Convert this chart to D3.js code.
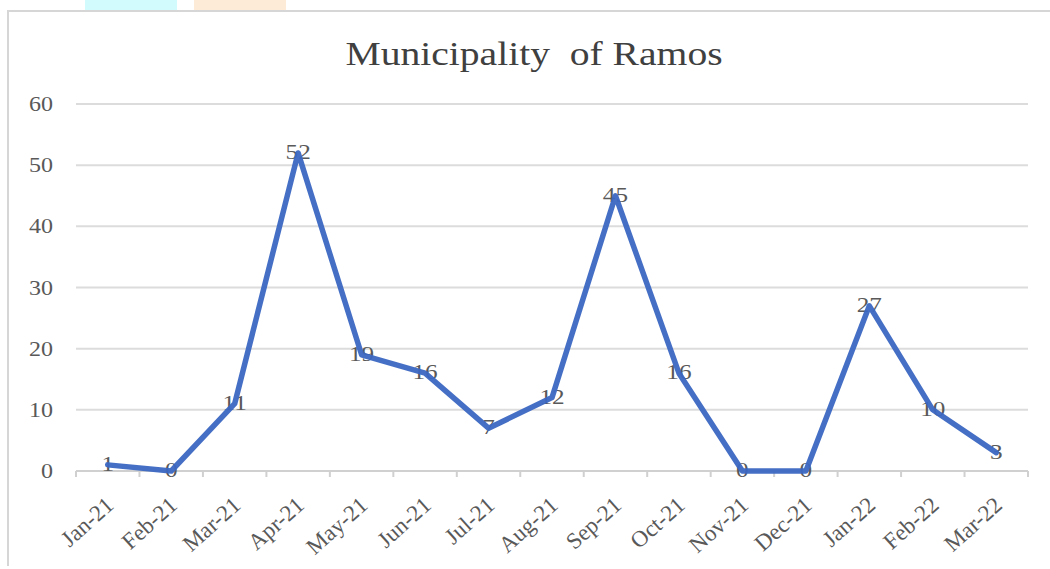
<!DOCTYPE html>
<html>
<head>
<meta charset="utf-8">
<script src="https://cdn.jsdelivr.net/npm/d3@7"></script>
<style>
  html, body { margin: 0; padding: 0; background: #fff; }
  svg { display: block; }
</style>
</head>
<body>
<svg id="chart" width="1050" height="569"></svg>
<script>
// Monthly counts, Municipality of Ramos
const months = ["Jan-21","Feb-21","Mar-21","Apr-21","May-21","Jun-21","Jul-21","Aug-21","Sep-21","Oct-21","Nov-21","Dec-21","Jan-22","Feb-22","Mar-22"];
const counts = [1, 0, 11, 52, 19, 16, 7, 12, 45, 16, 0, 0, 27, 10, 3];
const yTicks = [0, 10, 20, 30, 40, 50, 60];
const title = "Municipality  of Ramos";

const svg = d3.select("#chart");
const W = 1050, H = 569;
const margin = { left: 76, right: 22, top: 104, bottom: 98 };
const serif = "'Liberation Serif', 'Times New Roman', serif";
const textGrey = "#595959";
const stretch = 1.2; // wide letterforms

// decorative tabs above the frame
svg.append("rect").attr("x", 85).attr("y", 0).attr("width", 92).attr("height", 10).attr("fill", "#d2fbfd");
svg.append("rect").attr("x", 194).attr("y", 0).attr("width", 92).attr("height", 10).attr("fill", "#fdebd8");

// chart frame
svg.append("line").attr("x1", 7).attr("x2", W).attr("y1", 11).attr("y2", 11)
  .attr("stroke", "#d6d6d6").attr("stroke-width", 2);
svg.append("line").attr("x1", 8).attr("x2", 8).attr("y1", 10).attr("y2", 566)
  .attr("stroke", "#d6d6d6").attr("stroke-width", 2);

const x = d3.scaleBand().domain(months).range([margin.left, W - margin.right]);
const y = d3.scaleLinear().domain([0, 60]).range([H - margin.bottom, margin.top]);

// title
svg.append("text")
  .attr("transform", `translate(534,65) scale(${stretch},1)`)
  .attr("text-anchor", "middle")
  .style("font-family", serif).style("font-size", "33px")
  .style("white-space", "pre")
  .attr("fill", "#404040")
  .text(title);

// horizontal gridlines
svg.append("g").selectAll("line").data(yTicks.filter(d => d > 0)).join("line")
  .attr("x1", margin.left).attr("x2", W - margin.right)
  .attr("y1", d => y(d)).attr("y2", d => y(d))
  .attr("stroke", "#dcdcdc").attr("stroke-width", 2);

// y axis labels
svg.append("g").selectAll("text").data(yTicks).join("text")
  .attr("transform", d => `translate(53,${y(d)}) scale(${stretch},1)`)
  .attr("text-anchor", "end").attr("dy", "0.35em")
  .style("font-family", serif).style("font-size", "20px")
  .attr("fill", textGrey)
  .text(d => d);

// x axis with ticks at category boundaries
const gx = svg.append("g").attr("transform", `translate(0,${y(0)})`);
gx.append("line").attr("x1", margin.left).attr("x2", W - margin.right)
  .attr("stroke", "#d0d0d0").attr("stroke-width", 2);
const bounds = months.map(m => x(m)).concat([x(months[months.length - 1]) + x.bandwidth()]);
gx.selectAll("line.tick").data(bounds).join("line").attr("class", "tick")
  .attr("x1", d => d).attr("x2", d => d).attr("y1", 0).attr("y2", 6)
  .attr("stroke", "#d0d0d0").attr("stroke-width", 2);
gx.selectAll("text").data(months).join("text")
  .attr("transform", d => `translate(${x(d) + x.bandwidth() / 2 + 2},${30}) rotate(-42)`)
  .attr("text-anchor", "end")
  .attr("dy", "0.35em")
  .style("font-family", serif).style("font-size", "23px")
  .attr("fill", textGrey)
  .text(d => d);

const px = d => x(d) + x.bandwidth() / 2;

// data labels (drawn beneath the line)
svg.append("g").selectAll("text").data(months).join("text")
  .attr("transform", (d, i) => `translate(${px(d)},${y(counts[i])}) scale(${stretch},1)`)
  .attr("text-anchor", "middle").attr("dy", "0.3em")
  .style("font-family", serif).style("font-size", "21px")
  .attr("fill", textGrey)
  .text((d, i) => counts[i]);

// series line
const line = d3.line().x(d => px(d.m)).y(d => y(d.v));
svg.append("path")
  .datum(months.map((m, i) => ({ m, v: counts[i] })))
  .attr("d", line)
  .attr("fill", "none")
  .attr("stroke", "#3b67c2")
  .attr("stroke-width", 5.5)
  .attr("stroke-linejoin", "round")
  .attr("stroke-linecap", "round")
  .attr("opacity", 0.95);
</script>
</body>
</html>
